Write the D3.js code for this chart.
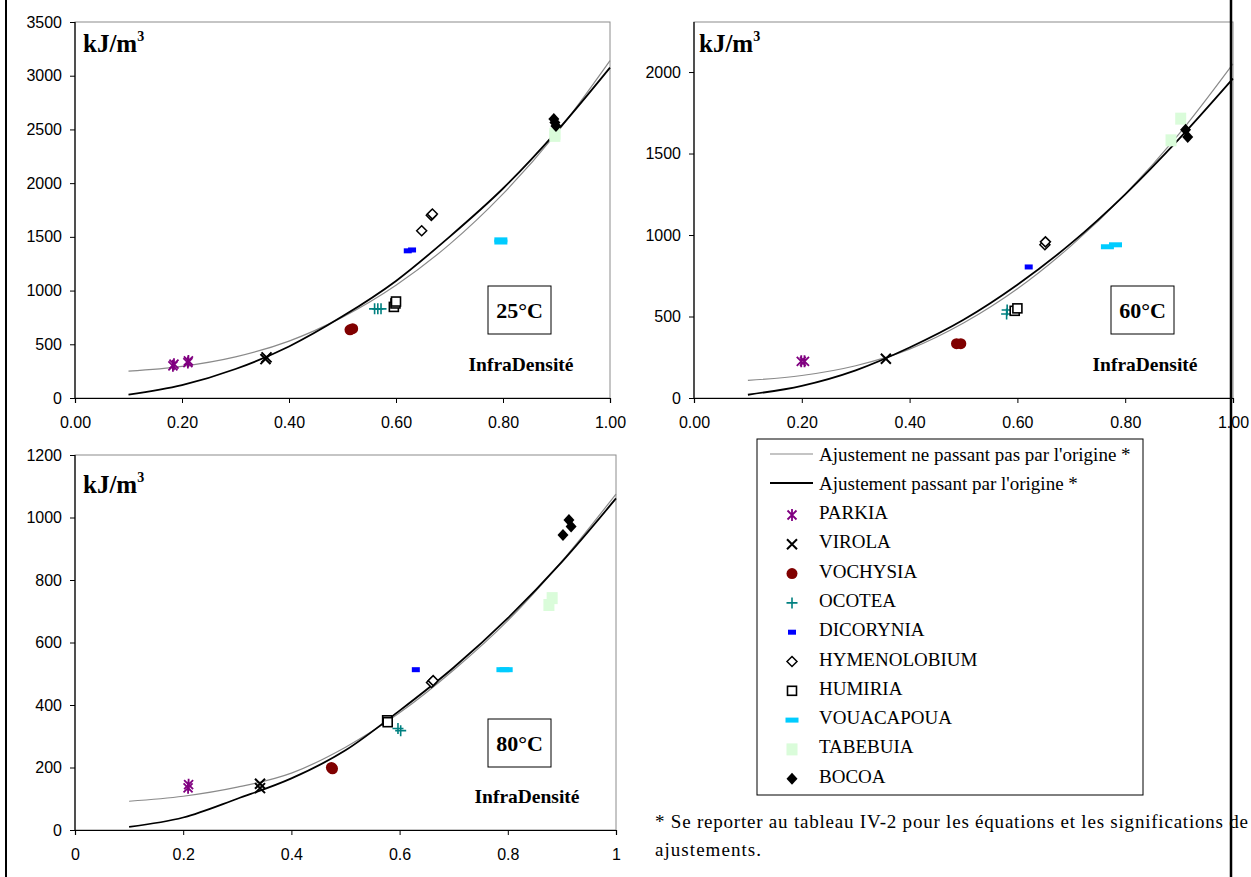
<!DOCTYPE html>
<html>
<head>
<meta charset="utf-8">
<script src="https://cdn.jsdelivr.net/npm/d3@7"></script>
<style>
  html, body { margin: 0; padding: 0; background: #fff; }
  svg { display: block; }
</style>
</head>
<body>
<svg id="chart" width="1251" height="877"></svg>
<script>
// ---------------- DATA ----------------
const species = ["PARKIA", "VIROLA", "VOCHYSIA", "OCOTEA", "DICORYNIA",
  "HYMENOLOBIUM", "HUMIRIA", "VOUACAPOUA", "TABEBUIA", "BOCOA"];

const fitLabels = ["Ajustement ne passant pas par l'origine *",
  "Ajustement passant par l'origine *"];

// x values at which the fitted curves were read
const fitX = [0.1, 0.2, 0.3, 0.4, 0.5, 0.6, 0.7, 0.8, 0.9, 1.0];

// 25°C
const fit25Free = [250, 295, 383, 530, 753, 1050, 1430, 1900, 2465, 3140];
const fit25Origin = [31, 120, 270, 480, 760, 1090, 1500, 1950, 2480, 3075];
const points25 = [
  ["PARKIA", 0.183, 300], ["PARKIA", 0.185, 315], ["PARKIA", 0.211, 330], ["PARKIA", 0.212, 345],
  ["VIROLA", 0.356, 362], ["VIROLA", 0.358, 378],
  ["VOCHYSIA", 0.514, 635], ["VOCHYSIA", 0.519, 645],
  ["OCOTEA", 0.560, 830], ["OCOTEA", 0.566, 830], ["OCOTEA", 0.572, 830],
  ["DICORYNIA", 0.622, 1370], ["DICORYNIA", 0.630, 1378],
  ["HYMENOLOBIUM", 0.648, 1557], ["HYMENOLOBIUM", 0.666, 1700], ["HYMENOLOBIUM", 0.668, 1712],
  ["HUMIRIA", 0.596, 848], ["HUMIRIA", 0.599, 880], ["HUMIRIA", 0.600, 898],
  ["VOUACAPOUA", 0.796, 1452], ["VOUACAPOUA", 0.796, 1472],
  ["TABEBUIA", 0.897, 2440], ["TABEBUIA", 0.897, 2460],
  ["BOCOA", 0.895, 2598], ["BOCOA", 0.897, 2565], ["BOCOA", 0.899, 2533]
];

// 60°C
const fit60Free = [108, 138, 198, 300, 460, 670, 935, 1250, 1620, 2050];
const fit60Origin = [20, 75, 170, 310, 480, 695, 950, 1250, 1590, 1960];
const points60 = [
  ["PARKIA", 0.199, 225], ["PARKIA", 0.205, 225],
  ["VIROLA", 0.356, 241],
  ["VOCHYSIA", 0.487, 333], ["VOCHYSIA", 0.495, 333],
  ["OCOTEA", 0.580, 515], ["OCOTEA", 0.581, 540],
  ["DICORYNIA", 0.621, 804],
  ["HYMENOLOBIUM", 0.651, 940], ["HYMENOLOBIUM", 0.652, 958],
  ["HUMIRIA", 0.595, 535], ["HUMIRIA", 0.600, 550],
  ["VOUACAPOUA", 0.767, 928], ["VOUACAPOUA", 0.782, 940],
  ["TABEBUIA", 0.903, 1714], ["TABEBUIA", 0.885, 1581],
  ["BOCOA", 0.912, 1646], ["BOCOA", 0.916, 1601]
];

// 80°C
const fit80Free = [92, 108, 137, 182, 265, 375, 512, 670, 860, 1075];
const fit80Origin = [10, 40, 100, 165, 255, 382, 520, 678, 858, 1061];
const points80 = [
  ["PARKIA", 0.209, 135], ["PARKIA", 0.210, 145],
  ["VIROLA", 0.342, 148], ["VIROLA", 0.342, 134],
  ["VOCHYSIA", 0.474, 200], ["VOCHYSIA", 0.476, 196],
  ["OCOTEA", 0.597, 325], ["OCOTEA", 0.602, 318],
  ["DICORYNIA", 0.630, 513],
  ["HYMENOLOBIUM", 0.659, 472], ["HYMENOLOBIUM", 0.662, 478],
  ["HUMIRIA", 0.577, 351], ["HUMIRIA", 0.578, 345],
  ["VOUACAPOUA", 0.791, 513], ["VOUACAPOUA", 0.797, 513],
  ["TABEBUIA", 0.882, 742], ["TABEBUIA", 0.876, 720],
  ["BOCOA", 0.902, 944], ["BOCOA", 0.913, 992], ["BOCOA", 0.917, 971]
];

const yTicks25 = [0, 500, 1000, 1500, 2000, 2500, 3000, 3500];
const yTicks60 = [0, 500, 1000, 1500, 2000];
const yTicks80 = [0, 200, 400, 600, 800, 1000, 1200];
const xTicks = [0, 0.2, 0.4, 0.6, 0.8, 1.0];

const footnote = ["* Se reporter au tableau IV-2 pour les équations et les significations de",
  "ajustements."];

// ---------------- LAYOUT / STYLE ----------------
const serif = "'Liberation Serif', 'Times New Roman', serif";
const sans = "'Liberation Sans', Arial, sans-serif";

const panels = [
  { temp: "25°C", free: fit25Free, origin: fit25Origin, pts: points25, yTicks: yTicks25,
    ymax: 3500, xfmt: d3.format(".2f"),
    left: 75, right: 610, top: 22, bottom: 398,
    unit: [83, 52], box: [488, 286, 63, 48], infra: [521, 371] },
  { temp: "60°C", free: fit60Free, origin: fit60Origin, pts: points60, yTicks: yTicks60,
    ymax: 2307, xfmt: d3.format(".2f"),
    left: 694, right: 1233, top: 22, bottom: 398,
    unit: [699, 52], box: [1111, 286, 63, 48], infra: [1145, 371] },
  { temp: "80°C", free: fit80Free, origin: fit80Origin, pts: points80, yTicks: yTicks80,
    ymax: 1200, xfmt: d => d3.format("")(+d.toFixed(1)),
    left: 75, right: 616, top: 455, bottom: 830,
    unit: [83, 493], box: [488, 719, 63, 48], infra: [527, 803] }
];

const svg = d3.select("#chart");

function drawMarker(g, sp) {
  switch (sp) {
    case "PARKIA":
      g.append("path").attr("d", "M-4.5,-4.5L4.5,4.5M-4.5,4.5L4.5,-4.5M0,-6V6")
        .attr("stroke", "#800080").attr("stroke-width", 1.8).attr("fill", "none"); break;
    case "VIROLA":
      g.append("path").attr("d", "M-5,-5L5,5M-5,5L5,-5")
        .attr("stroke", "#000").attr("stroke-width", 2).attr("fill", "none"); break;
    case "VOCHYSIA":
      g.append("circle").attr("r", 5.5).attr("fill", "#800000"); break;
    case "OCOTEA":
      g.append("path").attr("d", "M-5.5,0H5.5M0,-5.5V5.5")
        .attr("stroke", "#008080").attr("stroke-width", 1.6).attr("fill", "none"); break;
    case "DICORYNIA":
      g.append("rect").attr("x", -4).attr("y", -2.5).attr("width", 8).attr("height", 5)
        .attr("fill", "#0000ff"); break;
    case "HYMENOLOBIUM":
      g.append("path").attr("d", "M0,-5L5,0L0,5L-5,0Z")
        .attr("stroke", "#000").attr("stroke-width", 1.5).attr("fill", "#fff"); break;
    case "HUMIRIA":
      g.append("rect").attr("x", -4.5).attr("y", -4.5).attr("width", 9).attr("height", 9)
        .attr("stroke", "#000").attr("stroke-width", 1.6).attr("fill", "#fff"); break;
    case "VOUACAPOUA":
      g.append("rect").attr("x", -6.5).attr("y", -2.5).attr("width", 13).attr("height", 5)
        .attr("fill", "#00ccff"); break;
    case "TABEBUIA":
      g.append("rect").attr("x", -5.5).attr("y", -6).attr("width", 11).attr("height", 12)
        .attr("fill", "#dafcda"); break;
    case "BOCOA":
      g.append("path").attr("d", "M0,-6L5.5,0L0,6L-5.5,0Z").attr("fill", "#000"); break;
  }
}

panels.forEach(p => {
  const x = d3.scaleLinear().domain([0, 1]).range([p.left, p.right]);
  const y = d3.scaleLinear().domain([0, p.ymax]).range([p.bottom, p.top]);
  const g = svg.append("g");

  // plot area border (grey)
  g.append("rect").attr("x", p.left).attr("y", p.top)
    .attr("width", p.right - p.left).attr("height", p.bottom - p.top)
    .attr("fill", "none").attr("stroke", "#8c8c8c").attr("stroke-width", 1);

  // axes
  const yAxis = d3.axisLeft(y).tickValues(p.yTicks).tickSize(5).tickPadding(8)
    .tickFormat(d3.format("d"));
  const ga = g.append("g").attr("transform", `translate(${p.left},0)`).call(yAxis);
  ga.select(".domain").attr("d", `M0,${p.bottom}V${p.top}`);
  const xAxis = d3.axisBottom(x).tickValues(xTicks).tickSize(5).tickPadding(14)
    .tickFormat(p.xfmt);
  const gx = g.append("g").attr("transform", `translate(0,${p.bottom})`).call(xAxis);
  [ga, gx].forEach(a => {
    a.selectAll("text").attr("font-family", sans).attr("font-size", 16).attr("fill", "#000");
    a.selectAll("line").attr("stroke", "#000");
    a.select(".domain").attr("stroke", "#000").attr("stroke-width", 1.2);
  });

  // fitted curves
  const line = d3.line().x((d, i) => x(fitX[i])).y(d => y(d)).curve(d3.curveMonotoneX);
  g.append("path").attr("d", line(p.free)).attr("fill", "none")
    .attr("stroke", "#8a8a8a").attr("stroke-width", 1.2);
  g.append("path").attr("d", line(p.origin)).attr("fill", "none")
    .attr("stroke", "#000").attr("stroke-width", 1.8);

  // points in legend order
  species.forEach(sp => {
    p.pts.filter(d => d[0] === sp).forEach(d => {
      const m = g.append("g").attr("transform", `translate(${x(d[1])},${y(d[2])})`);
      drawMarker(m, sp);
    });
  });

  // unit label
  const u = g.append("text").attr("x", p.unit[0]).attr("y", p.unit[1])
    .attr("font-family", serif).attr("font-weight", "bold").attr("font-size", 25);
  u.append("tspan").text("kJ/m");
  u.append("tspan").text("3").attr("font-size", 14).attr("dy", -11);

  // temperature box
  g.append("rect").attr("x", p.box[0]).attr("y", p.box[1]).attr("width", p.box[2])
    .attr("height", p.box[3]).attr("fill", "#fff").attr("stroke", "#000").attr("stroke-width", 1);
  g.append("text").attr("x", p.box[0] + p.box[2] / 2).attr("y", p.box[1] + p.box[3] / 2 + 8)
    .attr("text-anchor", "middle").attr("font-family", serif).attr("font-weight", "bold")
    .attr("font-size", 22).text(p.temp);

  g.append("text").attr("x", p.infra[0]).attr("y", p.infra[1])
    .attr("text-anchor", "middle").attr("font-family", serif).attr("font-weight", "bold")
    .attr("font-size", 19.5).text("InfraDensité");
});

// ---------------- LEGEND ----------------
const leg = svg.append("g");
leg.append("rect").attr("x", 757).attr("y", 439).attr("width", 386).attr("height", 356)
  .attr("fill", "#fff").attr("stroke", "#000").attr("stroke-width", 1);
const fitStyles = [{ c: "#8a8a8a", w: 1.2 }, { c: "#000", w: 1.8 }];
fitLabels.forEach((t, i) => {
  const cy = 454 + i * 29;
  leg.append("line").attr("x1", 770).attr("x2", 813).attr("y1", cy).attr("y2", cy)
    .attr("stroke", fitStyles[i].c).attr("stroke-width", fitStyles[i].w);
  leg.append("text").attr("x", 819).attr("y", cy + 7).attr("font-family", serif)
    .attr("font-size", 19).text(t);
});
species.forEach((sp, i) => {
  const base = 519 + i * 29.3;
  const m = leg.append("g").attr("transform", `translate(792,${base - 4})`);
  drawMarker(m, sp);
  leg.append("text").attr("x", 819).attr("y", base).attr("font-family", serif)
    .attr("font-size", 19).text(sp);
});

// footnote (stretched like the original rendering)
const footLen = [593, 106];
footnote.forEach((t, i) => {
  svg.append("text").attr("x", 655).attr("y", 828 + i * 28).attr("font-family", serif)
    .attr("font-size", 19).attr("textLength", footLen[i]).attr("lengthAdjust", "spacing")
    .text(t);
});

// page frame lines
svg.append("line").attr("x1", 6).attr("x2", 6).attr("y1", 0).attr("y2", 877)
  .attr("stroke", "#000").attr("stroke-width", 2);
svg.append("line").attr("x1", 1231).attr("x2", 1231).attr("y1", 0).attr("y2", 877)
  .attr("stroke", "#000").attr("stroke-width", 2.5);
</script>
</body>
</html>
